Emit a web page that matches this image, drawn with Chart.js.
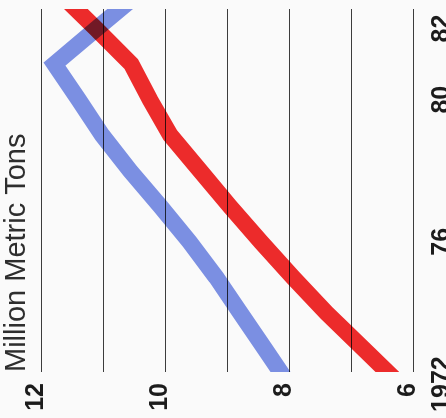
<!DOCTYPE html>
<html>
<head>
<meta charset="utf-8">
<script src="https://cdn.jsdelivr.net/npm/chart.js@4.4.1/dist/chart.umd.min.js"></script>
<style>
  html, body { margin: 0; padding: 0; background: #fafafa; }
  body { width: 446px; height: 418px; overflow: hidden; position: relative; }
  /* the chart is drawn upright, then turned a quarter to the left */
  #wrap {
    position: absolute; left: 0; top: 0;
    width: 418px; height: 446px;
    transform-origin: 0 0;
    transform: translate(0, 418px) rotate(-90deg);
  }
</style>
</head>
<body>
<div id="wrap"><canvas id="chart" width="418" height="446"></canvas></div>
<script>
// data (million metric tons)
const years = [1972, 1973, 1974, 1975, 1976, 1977, 1978, 1979, 1980, 1981, 1982, 1983];
const blueValues = [8.02, 8.41, 8.80, 9.19, 9.62, 10.09, 10.58, 11.03, 11.41, 11.80, 11.12, 10.43];
const redValues = [6.23, 6.82, 7.41, 7.95, 8.47, 8.97, 9.45, 9.93, 10.26, 10.56, 11.13, 11.72];

const yearTicks = [1972, 1976, 1980, 1982];
const yearLabels = ['1972', '76', '80', '82'];
const valueTicks = [6, 7, 8, 9, 10, 11, 12];
const valueLabels = ['6', '', '8', '', '10', '', '12'];

const axisTitle = 'Million Metric Tons';
const fontFamily = "'Liberation Sans', Arial, Helvetica, sans-serif";

function points(vals) {
    return years.map((yr, i) => ({ x: yr, y: vals[i] }));
}

// overlapping strokes darken each other like printed ink
const inkPlugin = {
    id: 'ink',
    beforeDatasetsDraw(chart) {
        chart.ctx.save();
        chart.ctx.globalCompositeOperation = 'multiply';
    },
    afterDatasetsDraw(chart) {
        chart.ctx.restore();
    }
};

const lineStyle = {
    borderWidth: 16.5,
    pointRadius: 0,
    tension: 0,
    fill: false,
    borderJoinStyle: 'miter',
    borderCapStyle: 'square',
    clip: { left: 0, right: 0, top: false, bottom: false }
};

new Chart(document.getElementById('chart'), {
    type: 'line',
    data: {
        datasets: [{
            data: points(blueValues),
            borderColor: '#7b8fe2',
            ...lineStyle
        }, {
            data: points(redValues),
            borderColor: '#ec2b2b',
            ...lineStyle
        }]
    },
    options: {
        responsive: false,
        animation: false,
        devicePixelRatio: 1,
        layout: { padding: { left: 0, right: 9, top: 0, bottom: 0 } },
        plugins: {
            legend: { display: false },
            tooltip: { enabled: false },
            title: {
                display: true,
                text: axisTitle,
                align: 'start',
                fullSize: false,
                color: '#2e2e2e',
                font: { family: fontFamily, size: 29, weight: 'normal', lineHeight: 1.2 },
                padding: { top: 0, bottom: 7.2 }
            }
        },
        scales: {
            x: {
                type: 'linear',
                position: 'bottom',
                min: 1972.34,
                max: 1982.55,
                grid: { display: false },
                border: { display: false },
                ticks: {
                    autoSkip: false,
                    maxRotation: 0,
                    minRotation: 0,
                    padding: 5,
                    color: '#1c1c1c',
                    font: { family: fontFamily, size: 25, weight: 'bold' },
                    callback: (v) => yearLabels[yearTicks.indexOf(v)]
                },
                afterBuildTicks: (scale) => {
                    scale.ticks = yearTicks.map(v => ({ value: v }));
                },
                afterFit: (scale) => {
                    scale.height = 32;
                    scale.paddingLeft = 0;
                    scale.paddingRight = 0;
                }
            },
            y: {
                type: 'linear',
                min: 6,
                max: 12,
                border: { display: false },
                grid: { color: '#3c3c3c', lineWidth: 1.1, drawTicks: false },
                ticks: {
                    padding: 11,
                    labelOffset: -6,
                    color: '#1c1c1c',
                    font: { family: fontFamily, size: 25, weight: 'bold' },
                    callback: (v) => valueLabels[valueTicks.indexOf(v)]
                },
                afterBuildTicks: (scale) => {
                    scale.ticks = valueTicks.map(v => ({ value: v }));
                },
                afterFit: (scale) => {
                    scale.width = 46;
                    scale.paddingTop = 0;
                    scale.paddingBottom = 0;
                }
            }
        }
    },
    plugins: [inkPlugin]
});
</script>
</body>
</html>
